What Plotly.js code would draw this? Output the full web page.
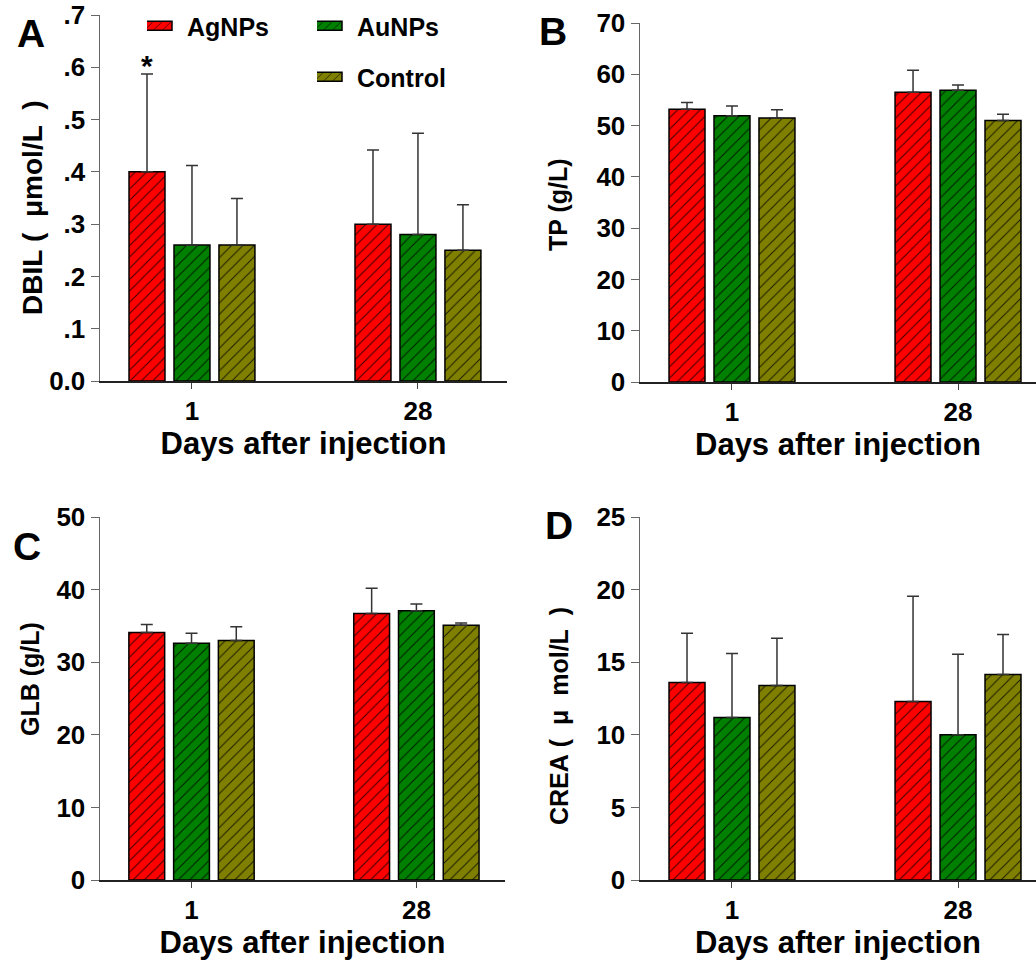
<!DOCTYPE html>
<html><head><meta charset="utf-8">
<script src="https://cdn.plot.ly/plotly-3.0.1.min.js"></script>
<style>body{margin:0;background:#fff}#chart{width:1036px;height:960px}</style>
</head><body><div id="chart"></div>
<script>
// ---- data ----
const days = ['1', '28'];
const groupNames = ['AgNPs', 'AuNPs', 'Control'];
const groupColors = ['#FF0000', '#008000', '#808000'];

const dbilAg = [0.40, 0.30];   const dbilAgErr = [0.187, 0.142];
const dbilAu = [0.26, 0.28];   const dbilAuErr = [0.152, 0.194];
const dbilCt = [0.26, 0.25];   const dbilCtErr = [0.089, 0.087];

const tpAg = [53.2, 56.5];     const tpAgErr = [1.3, 4.3];
const tpAu = [51.9, 56.9];     const tpAuErr = [1.9, 1.0];
const tpCt = [51.5, 51.0];     const tpCtErr = [1.6, 1.2];

const glbAg = [34.1, 36.7];    const glbAgErr = [1.1, 3.5];
const glbAu = [32.6, 37.1];    const glbAuErr = [1.4, 0.9];
const glbCt = [33.0, 35.1];    const glbCtErr = [1.9, 0.3];

const creaAg = [13.6, 12.3];   const creaAgErr = [3.4, 7.25];
const creaAu = [11.2, 10.0];   const creaAuErr = [4.4, 5.55];
const creaCt = [13.4, 14.15];  const creaCtErr = [3.25, 2.75];

const dbilTicks = [0, 0.1, 0.2, 0.3, 0.4, 0.5, 0.6, 0.7];
const dbilTickText = ['0.0', '.1', '.2', '.3', '.4', '.5', '.6', '.7'];

const NB = '\u00a0';
const yTitles = ['DBIL' + NB + '(' + NB + NB + 'μmol/L' + NB + NB + ')',
                 'TP (g/L)', 'GLB (g/L)',
                 'CREA' + NB + '(' + NB + NB + 'μ' + NB + NB + 'mol/L' + NB + NB + ')'];
const yTitleSizes = [28, 25, 25, 25];
const panelLetters = ['A', 'B', 'C', 'D'];

// ---- build ----
const FONT = 'Liberation Sans, Arial, sans-serif';
const bold = (size) => ({family: FONT, size: size, color: '#000', weight: 'bold'});

const panels = [
  {xa: 'x',  ya: 'y',  vals: [dbilAg, dbilAu, dbilCt], errs: [dbilAgErr, dbilAuErr, dbilCtErr], legend: true},
  {xa: 'x2', ya: 'y2', vals: [tpAg, tpAu, tpCt],       errs: [tpAgErr, tpAuErr, tpCtErr]},
  {xa: 'x3', ya: 'y3', vals: [glbAg, glbAu, glbCt],    errs: [glbAgErr, glbAuErr, glbCtErr]},
  {xa: 'x4', ya: 'y4', vals: [creaAg, creaAu, creaCt], errs: [creaAgErr, creaAuErr, creaCtErr]}
];
const legendIds = ['legend', 'legend2', 'legend3'];
const traces = [];
panels.forEach(p => {
  groupNames.forEach((g, i) => {
    traces.push({
      type: 'bar', name: g, x: days, y: p.vals[i],
      xaxis: p.xa, yaxis: p.ya,
      showlegend: !!p.legend, legend: legendIds[i],
      marker: {
        color: groupColors[i],
        line: {color: '#000', width: 1.5},
        pattern: {shape: '/', fillmode: 'replace', bgcolor: groupColors[i],
                  fgcolor: '#000', fgopacity: 0.8, size: 8, solidity: 0.12}
      },
      error_y: {type: 'data', symmetric: false, array: p.errs[i], arrayminus: [0, 0],
                color: '#333', thickness: 1.5, width: 6},
      hoverinfo: 'skip'
    });
  });
});

const W = 1036, H = 960;
const px = v => v / W, py = v => 1 - v / H;

function xAxis(d0, d1, r1, anchor) {
  return {domain: [px(d0), px(d1)], anchor: anchor, type: 'category', range: [-0.407, r1],
    showline: true, linecolor: '#222', linewidth: 1.5, ticks: 'outside', ticklen: 6, tickcolor: '#444',
    tickfont: bold(26), showgrid: false, zeroline: false, fixedrange: true,
    title: {text: 'Days after injection', font: bold(31), standoff: 7}};
}
function yAxis(top, bot, range, anchor, extra) {
  return Object.assign({domain: [py(bot), py(top)], anchor: anchor, range: range,
    showline: true, linecolor: '#666', linewidth: 1.5, ticks: 'outside', ticklen: 8, tickcolor: '#666',
    tickfont: bold(26), showgrid: false, zeroline: false, fixedrange: true}, extra || {});
}

const legendBase = () => ({xanchor: 'left', yanchor: 'top', bgcolor: 'rgba(0,0,0,0)',
  font: bold(25), tracegroupgap: 0});

// label positions (pixels) for panel letters and y-axis titles
const letterPos = [[31, 33], [553, 31], [27, 546], [559, 525]];
const yTitlePos = [[32, 208], [558, 205], [30, 679], [559, 716]];

const annotations = [];
panelLetters.forEach((t, i) => annotations.push({xref: 'paper', yref: 'paper',
  x: px(letterPos[i][0]), y: py(letterPos[i][1]), xanchor: 'center', yanchor: 'middle',
  text: t, showarrow: false, font: bold(39)}));
yTitles.forEach((t, i) => annotations.push({xref: 'paper', yref: 'paper',
  x: px(yTitlePos[i][0]), y: py(yTitlePos[i][1]), xanchor: 'center', yanchor: 'middle',
  textangle: -90, text: t, showarrow: false, font: bold(yTitleSizes[i])}));
annotations.push({xref: 'x', yref: 'y', x: -0.199, y: dbilAg[0] + dbilAgErr[0], text: '*',
  showarrow: false, yanchor: 'bottom', yshift: -10, font: bold(30)});

const layout = {
  width: W, height: H, margin: {l: 0, r: 0, t: 0, b: 0},
  paper_bgcolor: '#fff', plot_bgcolor: 'rgba(0,0,0,0)',
  font: {family: FONT, color: '#000'},
  barmode: 'group', bargap: 0.403, bargroupgap: 0.2,
  xaxis:  xAxis(100, 507, 1.394, 'y'),
  yaxis:  yAxis(15, 381, [0, 0.7], 'x', {tickvals: dbilTicks, ticktext: dbilTickText}),
  xaxis2: xAxis(640, 1036, 1.345, 'y2'),
  yaxis2: yAxis(23, 382, [0, 70], 'x2', {dtick: 10}),
  xaxis3: xAxis(100, 505, 1.394, 'y3'),
  yaxis3: yAxis(517, 880, [0, 50], 'x3', {dtick: 10}),
  xaxis4: xAxis(640, 1036, 1.345, 'y4'),
  yaxis4: yAxis(517, 880, [0, 25], 'x4', {dtick: 5}),
  legend:  Object.assign({x: px(147), y: py(3)}, legendBase()),
  legend2: Object.assign({x: px(317), y: py(3)}, legendBase()),
  legend3: Object.assign({x: px(317), y: py(54)}, legendBase()),
  annotations: annotations
};

function widenSwatches(gd) {
  // long flat legend swatches as in the original figure
  gd.querySelectorAll('.legendpoints path').forEach(p => {
    p.setAttribute('d', 'M-53,-4.5H5V4.5H-53Z');
  });
}
Plotly.newPlot('chart', traces, layout, {displayModeBar: false, staticPlot: true}).then(gd => {
  widenSwatches(gd);
  setTimeout(() => widenSwatches(gd), 50);
});
</script>
</body></html>
